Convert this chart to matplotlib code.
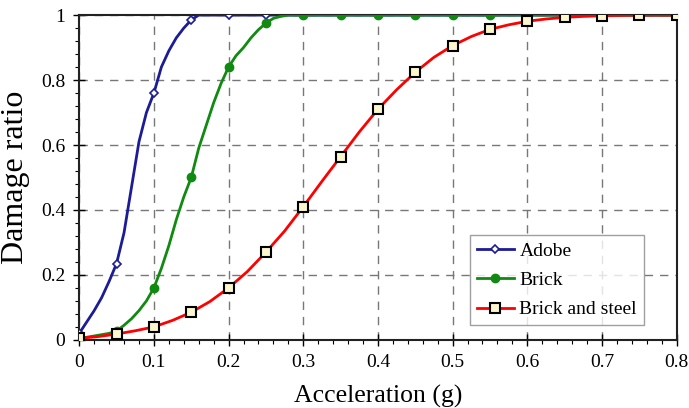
import numpy as np
import matplotlib.pyplot as plt
from matplotlib.ticker import MultipleLocator, FuncFormatter
from matplotlib.lines import Line2D

plt.rcParams['font.family'] = ['Liberation Serif', 'DejaVu Serif']

# Adobe curve
adobe_x = [0, 0.01, 0.02, 0.03, 0.04, 0.05, 0.06, 0.07, 0.08, 0.09, 0.1,
           0.11, 0.12, 0.13, 0.14, 0.15, 0.16, 0.2, 0.25, 0.3, 0.35, 0.4,
           0.45, 0.5, 0.55, 0.6, 0.65, 0.7, 0.75, 0.8]
adobe_y = [0.02, 0.055, 0.09, 0.13, 0.18, 0.235, 0.33, 0.47, 0.61, 0.70, 0.76,
           0.84, 0.89, 0.93, 0.96, 0.985, 1.0, 1.0, 1.0, 1.0, 1.0, 1.0,
           1.0, 1.0, 1.0, 1.0, 1.0, 1.0, 1.0, 1.0]
adobe_marks = [0, 5, 10, 15, 17, 18]

# Brick curve
brick_x = [0, 0.01, 0.02, 0.03, 0.04, 0.05, 0.06, 0.07, 0.08, 0.09, 0.1,
           0.11, 0.12, 0.13, 0.14, 0.15, 0.16, 0.17, 0.18, 0.19, 0.2,
           0.21, 0.22, 0.23, 0.24, 0.25, 0.26, 0.27, 0.28, 0.3, 0.35, 0.4,
           0.45, 0.5, 0.55, 0.6, 0.65, 0.7, 0.75, 0.8]
brick_y = [0.005, 0.008, 0.012, 0.016, 0.02, 0.027, 0.045, 0.065, 0.09, 0.12, 0.16,
           0.22, 0.29, 0.37, 0.44, 0.50, 0.59, 0.66, 0.73, 0.79, 0.84,
           0.875, 0.90, 0.93, 0.955, 0.975, 0.99, 0.996, 1.0, 1.0, 1.0, 1.0,
           1.0, 1.0, 1.0, 1.0, 1.0, 1.0, 1.0, 1.0]
brick_marks = [0, 5, 10, 15, 20, 25, 29, 30, 31, 32, 33, 34, 35, 36, 37, 38, 39]

# Brick and steel curve
steel_x = [0, 0.025, 0.05, 0.075, 0.1, 0.125, 0.15, 0.175, 0.2, 0.225, 0.25,
           0.275, 0.3, 0.325, 0.35, 0.375, 0.4, 0.425, 0.45, 0.475, 0.5,
           0.525, 0.55, 0.575, 0.6, 0.625, 0.65, 0.675, 0.7, 0.75, 0.8]
steel_y = [0.005, 0.01, 0.018, 0.028, 0.04, 0.06, 0.085, 0.118, 0.16, 0.21, 0.27,
           0.335, 0.41, 0.488, 0.564, 0.64, 0.71, 0.77, 0.824, 0.87, 0.906,
           0.934, 0.956, 0.97, 0.981, 0.988, 0.993, 0.996, 0.998, 1.0, 1.0]
steel_marks = [0, 2, 4, 6, 8, 10, 12, 14, 16, 18, 20, 22, 24, 26, 28, 29, 30]

fig, ax = plt.subplots(figsize=(6.89, 4.08), dpi=100)
fig.subplots_adjust(left=0.115, right=0.982, top=0.963, bottom=0.167)

styles = [
    dict(color='#1c1c96', marker='D', ms=4.5, mfc='white', mec='#1c1c96', mew=1.2),
    dict(color='#108a10', marker='o', ms=6, mfc='#108a10', mec='#108a10', mew=1),
    dict(color='#ff0000', marker='s', ms=6.5, mfc='#fbf6cc', mec='black', mew=1.5),
]
labels = ['Adobe', 'Brick', 'Brick and steel']
series = [(adobe_x, adobe_y, adobe_marks), (brick_x, brick_y, brick_marks),
          (steel_x, steel_y, steel_marks)]

for i, ((xs, ys, mk), st) in enumerate(zip(series, styles)):
    ax.plot(xs, ys, lw=2, markevery=mk, zorder=3 + i, **st)

ax.set_xlim(0, 0.8)
ax.set_ylim(0, 1)
ax.xaxis.set_major_locator(MultipleLocator(0.1))
ax.xaxis.set_minor_locator(MultipleLocator(0.02))
ax.yaxis.set_major_locator(MultipleLocator(0.2))
ax.yaxis.set_minor_locator(MultipleLocator(0.04))
fmt = FuncFormatter(lambda v, p: '%g' % round(v, 2))
ax.xaxis.set_major_formatter(fmt)
ax.yaxis.set_major_formatter(fmt)
ax.tick_params(which='major', direction='inout', length=8, width=1,
               labelsize=14, pad=6)
ax.tick_params(which='minor', direction='out', length=3, width=0.8)

ax.grid(True, which='major', color='#777777', linestyle=(0, (6, 5)), lw=1)
for s in ax.spines.values():
    s.set_linewidth(1.5)
    s.set_color('#222222')

ax.set_xlabel('Acceleration (g)', fontsize=18.5, labelpad=10)
ax.set_ylabel('Damage ratio', fontsize=23, labelpad=8)

handles = [Line2D([], [], lw=2, **st) for st in styles]
leg = ax.legend(handles, labels, loc='lower right', bbox_to_anchor=(0.945, 0.045),
                fontsize=14, frameon=True, fancybox=False, edgecolor='#888888',
                handlelength=1.9, borderpad=0.35, labelspacing=0.6,
                handletextpad=0.3, borderaxespad=0)
leg.get_frame().set_linewidth(1)

fig.savefig('out.png', dpi=100)
